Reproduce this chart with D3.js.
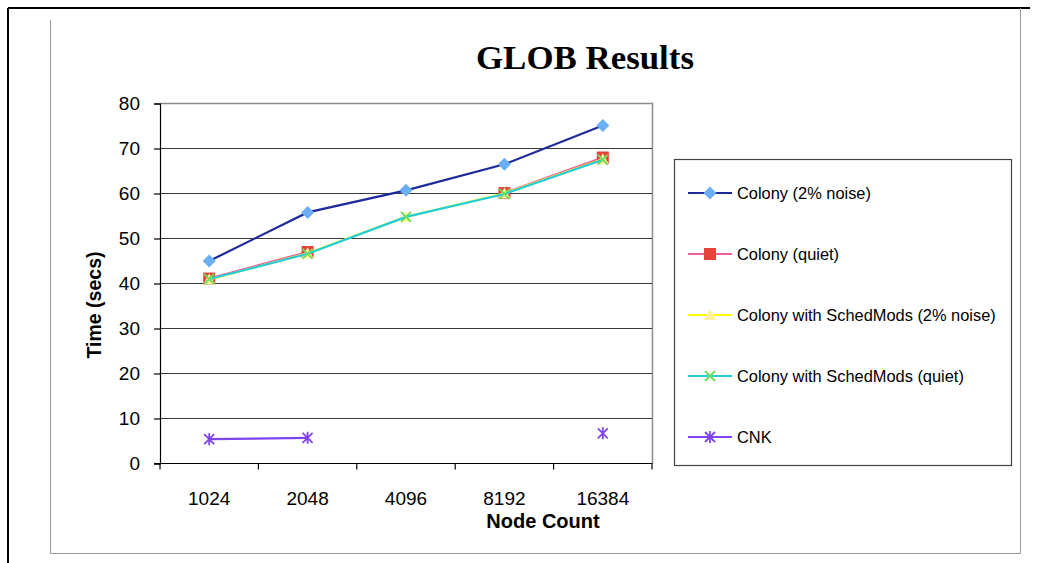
<!DOCTYPE html>
<html>
<head>
<meta charset="utf-8">
<script src="https://cdn.jsdelivr.net/npm/d3@7"></script>
<style>
  html, body { margin: 0; padding: 0; background: #fff; }
  svg { display: block; }
  text { font-family: "Liberation Sans", Arial, sans-serif; fill: #000; }
</style>
</head>
<body>
<svg id="chart" width="1051" height="563"></svg>
<script>
// Node counts on the x axis
const categories = ["1024", "2048", "4096", "8192", "16384"];

// Run times in seconds (null = no run at that size)
const colonyNoise      = [45.0, 55.8, 60.7, 66.5, 75.1];
const colonyQuiet      = [41.1, 47.0, null, 60.1, 68.0];
const schedModsNoise   = [40.9, 46.7, 54.8, 60.0, 67.6];
const schedModsQuiet   = [41.0, 46.6, 54.8, 59.9, 67.5];
const cnk              = [5.4, 5.7, null, null, 6.7];

const seriesNames = [
  "Colony (2% noise)",
  "Colony (quiet)",
  "Colony with SchedMods (2% noise)",
  "Colony with SchedMods (quiet)",
  "CNK"
];

const yTicks = [0, 10, 20, 30, 40, 50, 60, 70, 80];

const series = [
  { name: seriesNames[0], values: colonyNoise,    line: "#1c2a9c", fill: "#6aaef5", marker: "diamond" },
  { name: seriesNames[1], values: colonyQuiet,    line: "#f0609a", fill: "#e5433a", marker: "square" },
  { name: seriesNames[2], values: schedModsNoise, line: "#ffff00", fill: "#fff3a0", marker: "triangle" },
  { name: seriesNames[3], values: schedModsQuiet, line: "#22cce0", fill: "#6edd5a", marker: "cross" },
  { name: seriesNames[4], values: cnk,            line: "#7f45f2", fill: "#7f45f2", marker: "star" }
];

const svg = d3.select("#chart");

// Page frame
svg.append("line").attr("x1", 8).attr("y1", 8).attr("x2", 1030).attr("y2", 8)
  .attr("stroke", "#000").attr("stroke-width", 2);
svg.append("line").attr("x1", 8).attr("y1", 8).attr("x2", 8).attr("y2", 563)
  .attr("stroke", "#000").attr("stroke-width", 2);
svg.append("path").attr("d", "M50.5,20 V553.5 H1020.5 V8")
  .attr("fill", "none").attr("stroke", "#999").attr("stroke-width", 1);

// Title
svg.append("text")
  .attr("x", 585).attr("y", 69)
  .attr("text-anchor", "middle")
  .attr("textLength", 218).attr("lengthAdjust", "spacingAndGlyphs")
  .style("font-family", "'Liberation Serif', serif")
  .style("font-weight", "bold").style("font-size", "33px")
  .text("GLOB Results");

// Scales
const plot = { left: 160, right: 652, top: 103.5, bottom: 463.5 };
const x = d3.scaleBand().domain(categories).range([plot.left, plot.right]).padding(0);
const y = d3.scaleLinear().domain([0, 80]).range([plot.bottom, plot.top]);

// Plot border (top and right)
svg.append("path")
  .attr("d", `M${plot.left},${plot.top} H${plot.right + 0.5} V${plot.bottom}`)
  .attr("fill", "none").attr("stroke", "#8c8c8c").attr("stroke-width", 1.5);

// Horizontal gridlines
svg.append("g").selectAll("line")
  .data(yTicks.filter(t => t > 0 && t < 80))
  .join("line")
  .attr("x1", plot.left).attr("x2", plot.right)
  .attr("y1", d => y(d)).attr("y2", d => y(d))
  .attr("stroke", "#3a3a3a").attr("stroke-width", 1.2);

// Y axis
const yAxis = d3.axisLeft(y).tickValues(yTicks).tickSize(6).tickPadding(14);
const gy = svg.append("g").attr("transform", `translate(${plot.left},0)`).call(yAxis);
gy.select(".domain").attr("stroke", "#000").attr("stroke-width", 1.2);
gy.selectAll(".tick line").attr("stroke", "#000").attr("stroke-width", 1.2);
gy.selectAll(".tick text")
  .style("font-family", "'Liberation Sans', Arial, sans-serif")
  .style("font-size", "19px").attr("fill", "#111");

// X axis: ticks sit on band boundaries, labels at band centres
const gx = svg.append("g").attr("transform", `translate(0,${plot.bottom})`);
gx.append("line").attr("x1", plot.left - 6).attr("x2", plot.right + 0.5)
  .attr("y1", 0).attr("y2", 0).attr("stroke", "#000").attr("stroke-width", 1.2);
const bounds = categories.map(c => x(c)).concat([x(categories[categories.length - 1]) + x.bandwidth()]);
gx.selectAll(".xt").data(bounds).join("line").attr("class", "xt")
  .attr("x1", d => d).attr("x2", d => d).attr("y1", 0).attr("y2", 6)
  .attr("stroke", "#000").attr("stroke-width", 1.2);
gx.selectAll(".xl").data(categories).join("text").attr("class", "xl")
  .attr("x", d => x(d) + x.bandwidth() / 2).attr("y", 41)
  .attr("text-anchor", "middle")
  .style("font-size", "19px").attr("fill", "#111")
  .text(d => d);

// Axis titles
svg.append("text")
  .attr("x", 543).attr("y", 528)
  .attr("text-anchor", "middle")
  .style("font-weight", "bold").style("font-size", "20px")
  .text("Node Count");
svg.append("text")
  .attr("transform", "translate(101,305) rotate(-90)")
  .attr("text-anchor", "middle")
  .style("font-weight", "bold").style("font-size", "19.5px")
  .text("Time (secs)");

// Marker shapes
function drawMarker(g, s, cx, cy) {
  if (s.marker === "diamond") {
    g.append("path").attr("d", `M${cx},${cy - 6.5} L${cx + 6.5},${cy} L${cx},${cy + 6.5} L${cx - 6.5},${cy} Z`)
      .attr("fill", s.fill);
  } else if (s.marker === "square") {
    g.append("rect").attr("x", cx - 6).attr("y", cy - 6).attr("width", 12).attr("height", 12)
      .attr("fill", s.fill);
  } else if (s.marker === "triangle") {
    g.append("path").attr("d", `M${cx},${cy - 6} L${cx + 6},${cy + 5} L${cx - 6},${cy + 5} Z`)
      .attr("fill", s.fill);
  } else if (s.marker === "cross") {
    g.append("path").attr("d", `M${cx - 5},${cy - 5} L${cx + 5},${cy + 5} M${cx + 5},${cy - 5} L${cx - 5},${cy + 5}`)
      .attr("stroke", s.fill).attr("stroke-width", 1.8).attr("fill", "none");
  } else if (s.marker === "star") {
    g.append("path").attr("d",
      `M${cx - 5},${cy - 5} L${cx + 5},${cy + 5} M${cx + 5},${cy - 5} L${cx - 5},${cy + 5} M${cx},${cy - 6} L${cx},${cy + 6}`)
      .attr("stroke", s.fill).attr("stroke-width", 1.8).attr("fill", "none");
  }
}

// Series: line then markers, in series order
const line = d3.line()
  .defined(d => d.v !== null)
  .x(d => x(d.c) + x.bandwidth() / 2)
  .y(d => y(d.v));

series.forEach(s => {
  const pts = categories.map((c, i) => ({ c, v: s.values[i] }));
  const g = svg.append("g");
  g.append("path").datum(pts).attr("d", line)
    .attr("fill", "none").attr("stroke", s.line).attr("stroke-width", 2.2);
  pts.filter(p => p.v !== null).forEach(p => drawMarker(g, s, x(p.c) + x.bandwidth() / 2, y(p.v)));
});

// Legend
const lg = svg.append("g");
lg.append("rect").attr("x", 674.5).attr("y", 159.5).attr("width", 337).attr("height", 306)
  .attr("fill", "#fff").attr("stroke", "#444").attr("stroke-width", 1.2);
series.forEach((s, i) => {
  const cy = 193 + i * 61;
  lg.append("line").attr("x1", 688).attr("x2", 732).attr("y1", cy).attr("y2", cy)
    .attr("stroke", s.line).attr("stroke-width", 2.2);
  drawMarker(lg, s, 710, cy);
  lg.append("text").attr("x", 737).attr("y", cy + 6)
    .style("font-size", "16.4px").attr("fill", "#111")
    .text(s.name);
});
</script>
</body>
</html>
